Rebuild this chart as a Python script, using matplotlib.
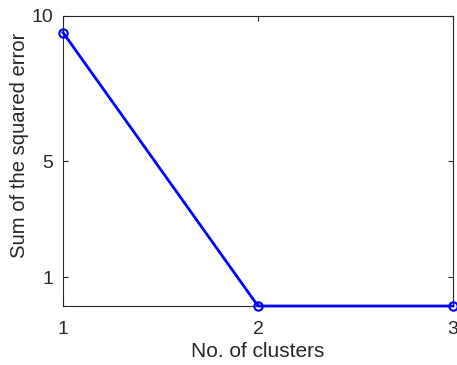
import matplotlib
matplotlib.use("Agg")
import matplotlib.pyplot as plt

# data
n_clusters = [1, 2, 3]
sse = [9.43, 0.0, 0.0]

x_ticks = [1, 2, 3]
y_ticks = [1, 5, 10]

plt.rcParams['font.family'] = ['Liberation Sans', 'DejaVu Sans']
text_col = '#262626'

fig = plt.figure(figsize=(4.57, 3.65), dpi=100)
ax = fig.add_axes([63 / 457, 1 - 306 / 365, 390 / 457, 290 / 365])

ax.plot(n_clusters, sse, 'o-', color='#0000ff', linewidth=2,
        markersize=6, markerfacecolor='none', markeredgewidth=1.5,
        clip_on=False, zorder=3)

ax.set_xlim(1, 3)
ax.set_ylim(0, 10)
ax.set_xticks(x_ticks)
ax.set_yticks(y_ticks)
ax.tick_params(direction='in', length=3.5, width=0.8, colors=text_col,
               labelsize=14, top=True, right=True)
ax.tick_params(axis='x', pad=11)
ax.tick_params(axis='y', pad=7)
for s in ax.spines.values():
    s.set_color(text_col)
    s.set_linewidth(0.8)

ax.set_xlabel('No. of clusters', fontsize=15, color=text_col)
ax.set_ylabel('Sum of the squared error', fontsize=14.6, color=text_col)
ax.xaxis.set_label_coords(0.5, -0.125)
ax.yaxis.set_label_coords(-0.087, 0.555)

fig.savefig('out.png', dpi=100)
